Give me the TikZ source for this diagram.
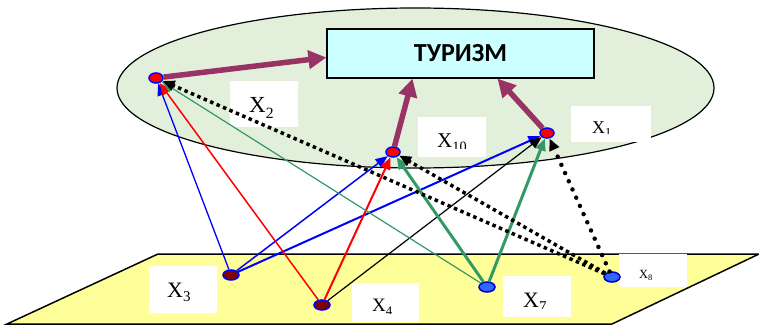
\documentclass[tikz,border=0pt]{standalone}
\usepackage{graphicx}
\usepackage{fontspec}
\setmainfont{Liberation Serif}
\newfontfamily\headfont{Carlito}
\usetikzlibrary{arrows.meta,shapes.geometric}

\definecolor{ovalgreen}{RGB}{226,239,218}
\definecolor{boxcyan}{RGB}{204,255,255}
\definecolor{planeyellow}{RGB}{255,255,153}
\definecolor{plum}{RGB}{153,51,102}
\definecolor{seagreen}{RGB}{51,153,102}
\definecolor{darkred}{RGB}{128,0,0}
\definecolor{lightblue}{RGB}{51,102,255}

% lowered index as in the factor labels
\newcommand{\idx}[1]{\raisebox{-0.22em}{\scalebox{0.68}{#1}}}

\tikzset{
  upnode/.style={ellipse, draw=blue, fill=red, line width=1.5pt, minimum width=14pt, minimum height=10pt, inner sep=0pt},
  lownode/.style={ellipse, draw=blue, fill=darkred, line width=1.5pt, minimum width=16pt, minimum height=10pt, inner sep=0pt},
  bluenode/.style={lownode, fill=lightblue, draw=blue!80!black},
  lblbox/.style={fill=white, inner sep=0pt, minimum width=68pt, minimum height=46pt},
  lbltext/.style={anchor=base west, inner sep=0pt},
  tip/.style={-{Triangle[length=12pt,width=10pt]}},
  effect/.style={draw=plum, line width=5.5pt, -{Triangle[length=18pt,width=18pt]}},
  sqdots/.style={tip, line width=3.5pt, dash pattern=on 3.5pt off 3.5pt},
  rnddots/.style={tip, line width=4.5pt, line cap=round, dash pattern=on 0pt off 9pt}
}

\begin{document}
\begin{tikzpicture}[x=1pt,y=-1pt]
\useasboundingbox (0,0) rectangle (759,326);
% upper level: oval and target
\draw[line width=1.2pt, fill=ovalgreen] (415.5,88) ellipse [x radius=298.5pt, y radius=80pt];
\node[draw, line width=1.2pt, fill=boxcyan, minimum width=267pt, minimum height=49pt,
  font=\headfont\bfseries\fontsize{26}{30}\selectfont] (tourism) at (460.5,53.5) {ТУРИЗМ};

% lower level: plane
\draw[line width=1.5pt, fill=planeyellow] (7,324) -- (158,254) -- (759,254) -- (612,324) -- cycle;

% label boxes
\node[lblbox] (b2) at (264,104) {};
\node[lblbox, minimum height=40pt] (b10) at (452,137) {};
\node[lblbox, minimum width=80pt, minimum height=36pt] (b1) at (611,124) {};
\node[lblbox, minimum height=47pt] (b3) at (183,289.5) {};
\node[lblbox, minimum width=67pt, minimum height=39pt] (b4) at (385.5,302.5) {};
\node[lblbox, minimum height=41pt] (b7) at (537,296.5) {};
\node[lblbox, minimum height=33pt] (b8) at (653,270.5) {};

% label texts
\node[lbltext, font=\fontsize{23}{23}\selectfont] (t2) at (249,113) {X\idx{2}};
\node[lbltext, font=\fontsize{22}{22}\selectfont] (t3) at (167,297) {X\idx{3}};
\begin{scope}
  \clip (b10.north west) rectangle (486,148);
  \node[lbltext, font=\fontsize{21}{21}\selectfont] (t10) at (437,147) {X\idx{10}};
\end{scope}
\begin{scope}
  \clip (b1.north west) rectangle (651,133);
  \node[lbltext, font=\fontsize{18}{18}\selectfont] (t1) at (592,133) {X\idx{1}};
\end{scope}
\begin{scope}
  \clip (b4.north west) rectangle (419,313);
  \node[lbltext, font=\fontsize{19}{19}\selectfont] (t4) at (372,311) {X\idx{4}};
\end{scope}
\begin{scope}
  \clip (b7.north west) rectangle (571,308);
  \node[lbltext, font=\fontsize{22}{22}\selectfont] (t7) at (523,307) {X\idx{7}};
\end{scope}
\begin{scope}
  \clip (b8.north west) rectangle (687,279);
  \node[lbltext, font=\fontsize{12.5}{13}\selectfont] (t8) at (639,278) {X\idx{8}};
\end{scope}

% factor nodes
\node[upnode] (x2) at (156,78) {};
\node[upnode] (x10) at (393,152) {};
\node[upnode] (x1) at (547,133) {};
\node[lownode] (x3) at (231,275) {};
\node[lownode] (x4) at (322,305) {};
\node[bluenode] (x7) at (487,287) {};
\node[bluenode] (x8) at (612,277) {};

% influences on tourism
\draw[effect] (x2) -- ([yshift=-4pt]tourism.west);
\draw[effect] (x10) -- ([xshift=-48pt]tourism.south);
\draw[effect] (x1) -- ([xshift=37pt]tourism.south);

% links from the lower level
\draw[tip, blue, line width=1.3pt] (x3) -- (x2);
\draw[tip, blue, line width=1.5pt] (x3) -- (x10);
\draw[tip, blue, line width=2pt] (x3) -- (x1);
\draw[tip, red, line width=1.5pt] (x4) -- (x2);
\draw[tip, red, line width=2pt] (x4) -- (x10);
\draw[tip, black, line width=1.2pt] (x4) -- (x1);
\draw[tip, seagreen, line width=1.2pt] (x7) -- (x2);
\draw[tip, seagreen, line width=3pt] (x7) -- (x10);
\draw[tip, seagreen, line width=3pt] (x7) -- (x1);
\draw[sqdots] (x8) -- (x2);
\draw[sqdots] (x8) -- (x10);
\draw[rnddots] (x8) -- (x1);
\end{tikzpicture}
\end{document}
